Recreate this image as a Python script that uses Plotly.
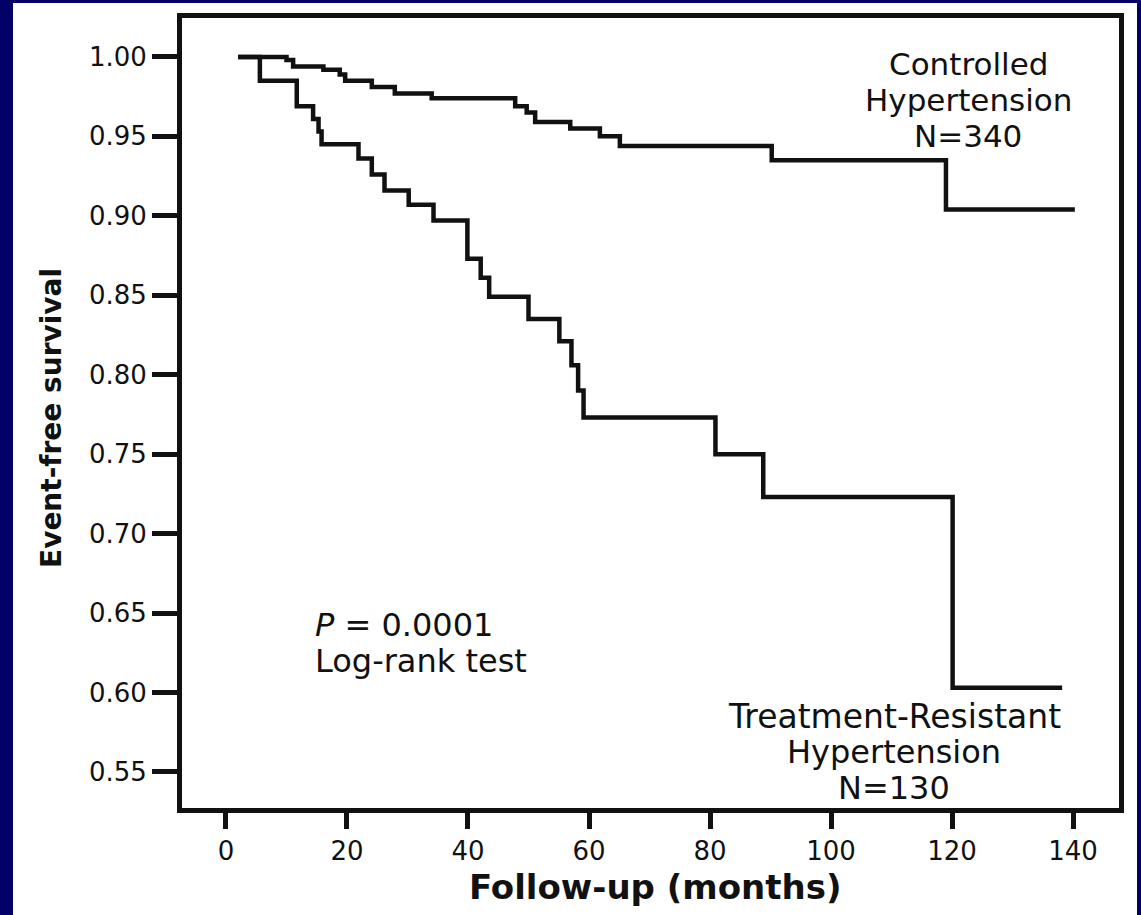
import plotly.graph_objects as go

# Kaplan-Meier step data (months, event-free survival)
months_controlled = [2.0, 10.0, 11.1, 16.1, 18.8, 19.7, 24.1, 27.9, 34.0, 47.8,
                     49.7, 51.1, 56.9, 61.8, 65.1, 90.2, 119.0, 140.3]
surv_controlled = [1.000, 0.998, 0.994, 0.992, 0.989, 0.985, 0.981, 0.977, 0.974, 0.969,
                   0.965, 0.959, 0.955, 0.950, 0.944, 0.935, 0.904, 0.904]

months_resistant = [2.0, 5.6, 11.7, 14.4, 15.3, 15.8, 21.9, 24.1, 26.2, 30.2, 34.3,
                    39.9, 42.1, 43.5, 50.0, 55.1, 57.1, 58.2, 59.1, 80.9, 88.8,
                    120.1, 138.2]
surv_resistant = [1.000, 0.985, 0.969, 0.961, 0.953, 0.945, 0.936, 0.926, 0.916, 0.907, 0.897,
                  0.873, 0.861, 0.849, 0.835, 0.821, 0.806, 0.790, 0.773, 0.750, 0.723,
                  0.603, 0.603]

x_ticks = [0, 20, 40, 60, 80, 100, 120, 140]
y_ticks = [0.55, 0.60, 0.65, 0.70, 0.75, 0.80, 0.85, 0.90, 0.95, 1.00]
y_tick_labels = ["0.55", "0.60", "0.65", "0.70", "0.75", "0.80", "0.85", "0.90", "0.95", "1.00"]

W, H = 1141, 915
L, R, T, B = 182, 1119, 18, 808   # plot area in pixels
INK = "#111111"
NAVY = "#000066"
FONT = "DejaVu Sans"


def px_x(p):
    return (p - L) / (R - L)


def px_y(p):
    return (B - p) / (B - T)


fig = go.Figure()
for xs, ys in [(months_controlled, surv_controlled), (months_resistant, surv_resistant)]:
    fig.add_trace(go.Scatter(
        x=xs, y=ys, mode="lines",
        line=dict(shape="hv", color=INK, width=4.5),
        showlegend=False, hoverinfo="skip",
    ))

annotations = []


def label(text, xp, yp, size, anchor="center", bold=False):
    annotations.append(dict(
        text=f"<b>{text}</b>" if bold else text,
        xref="paper", yref="paper", x=px_x(xp), y=px_y(yp),
        xanchor=anchor, yanchor="middle", showarrow=False,
        font=dict(family=FONT, size=size, color=INK),
    ))


# group labels
label("Controlled", 968, 64, 31)
label("Hypertension", 968, 100, 31)
label("N=340", 968, 136, 31)
label("Treatment-Resistant", 894, 716, 33)
label("Hypertension", 894, 752, 32)
label("N=130", 894, 788, 32)

# test statistic
label("<i>P</i> = 0.0001", 313, 625, 32, anchor="left")
label("Log-rank test", 313, 661, 32, anchor="left")

# axis titles
label("Follow-up (months)", 655, 887, 34, bold=True)
annotations.append(dict(
    text="<b>Event-free survival</b>", textangle=-90,
    xref="paper", yref="paper", x=px_x(51), y=px_y(418),
    xanchor="center", yanchor="middle", showarrow=False,
    font=dict(family=FONT, size=28, color=INK),
))

axis_common = dict(
    showline=True, linewidth=5, linecolor=INK, mirror=True,
    ticks="outside", tickwidth=5, tickcolor=INK,
    showgrid=False, zeroline=False,
    tickfont=dict(family=FONT, size=26, color=INK),
)

fig.update_layout(
    width=W, height=H,
    margin=dict(l=L, r=W - R, t=T, b=H - B, pad=0),
    paper_bgcolor=NAVY,
    plot_bgcolor="white",
    xaxis=dict(range=[-7.27, 147.6], tickvals=x_ticks, ticklen=16, **axis_common),
    yaxis=dict(range=[0.5273, 1.0245], tickvals=y_ticks, ticktext=y_tick_labels,
               ticklen=25, **axis_common),
    annotations=annotations,
    shapes=[dict(
        type="rect", xref="paper", yref="paper", layer="below",
        x0=px_x(13), x1=px_x(1137), y0=px_y(H + 20), y1=px_y(3),
        fillcolor="white", line=dict(width=0),
    )],
)

fig.write_html("out.html")
